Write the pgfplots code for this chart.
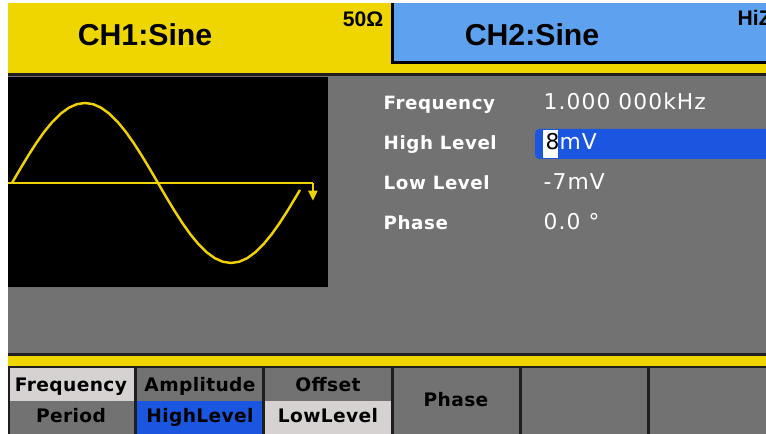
\documentclass[border=0pt]{standalone}
\usepackage{pgfplots}
\pgfplotsset{compat=1.18}
\usetikzlibrary{arrows.meta}
\usepackage{fontspec}
\setmainfont{Liberation Sans}
\newfontfamily\djlab[LetterSpace=3]{DejaVu Sans}
\newfontfamily\djval[LetterSpace=5]{DejaVu Sans}
\newfontfamily\djbtn[LetterSpace=2]{DejaVu Sans}
\definecolor{uiyel}{RGB}{240,214,0}
\definecolor{hdrblue}{RGB}{94,161,238}
\definecolor{uigray}{RGB}{114,114,114}
\definecolor{ltgray}{RGB}{214,210,210}
\definecolor{selblue}{RGB}{26,86,224}
\definecolor{dk}{RGB}{30,30,30}
\definecolor{wave}{RGB}{240,210,0}
\begin{document}
\begin{tikzpicture}
\useasboundingbox (0,0) rectangle (7.66cm,4.34cm);
\clip (0,0) rectangle (7.66cm,4.34cm);
\begin{axis}[at={(0,0)},anchor=south west,width=7.66cm,height=4.34cm,
  scale only axis,hide axis,xmin=0,xmax=766,ymin=0,ymax=434,y dir=reverse,clip=false]
% background
\fill[white] (0,0) rectangle (766,434);
% header
\fill[uiyel] (8,3) rectangle (766,74);
\fill[black] (391,3) rectangle (766,64);
\fill[hdrblue] (394,3) rectangle (766,61);
\fill[dk] (8,73) rectangle (766,76);
% main panel
\fill[uigray] (8,76) rectangle (766,353);
\fill[black] (8,77) rectangle (328,287);
% bottom bars
\fill[dk] (8,353) rectangle (766,356);
\fill[uiyel] (8,356) rectangle (766,366);
\fill[dk] (8,366) rectangle (766,434);
% buttons
\fill[ltgray] (10,368) rectangle (134,401);
\fill[uigray] (10,401) rectangle (134,434);
\fill[uigray] (137,368) rectangle (262,401);
\fill[selblue] (137,401) rectangle (262,434);
\fill[uigray] (265,368) rectangle (391,401);
\fill[ltgray] (265,401) rectangle (391,434);
\fill[uigray] (394,368) rectangle (519,434);
\fill[uigray] (522,368) rectangle (647,434);
\fill[uigray] (650,368) rectangle (766,434);
% selection bar
\fill[selblue,rounded corners=1.2pt] (535,129) rectangle (776,159);
\fill[white] (543,130) rectangle (558,158);
% header text
\node[anchor=base,inner sep=0,font=\fontsize{8.6}{10}\selectfont\bfseries] at (145,46) {CH1:Sine};
\node[anchor=base,inner sep=0,font=\fontsize{8.6}{10}\selectfont\bfseries] at (532,46) {CH2:Sine};
\node[anchor=base,inner sep=0,font=\fontsize{6}{7}\selectfont\bfseries] at (363,27) {50Ω};
\node[anchor=base west,inner sep=0,font=\fontsize{6}{7}\selectfont\bfseries] at (737,26) {HiZ};
% parameter labels
\begin{scope}[every node/.style={anchor=base west,inner sep=0,text=white}]
\node[font=\djlab\fontsize{5.2}{6}\selectfont\bfseries] at (383,110) {Frequency};
\node[font=\djlab\fontsize{5.2}{6}\selectfont\bfseries] at (383,150) {High Level};
\node[font=\djlab\fontsize{5.2}{6}\selectfont\bfseries] at (383,190) {Low Level};
\node[font=\djlab\fontsize{5.2}{6}\selectfont\bfseries] at (383,230) {Phase};
\node[font=\djval\fontsize{6.2}{7}\selectfont] at (543,110) {1.000 000kHz};
\node[font=\djval\fontsize{6.2}{7}\selectfont] at (545,150) {\textcolor{black}{8}mV};
\node[font=\djval\fontsize{6.2}{7}\selectfont] at (543,190) {-7mV};
\node[font=\djval\fontsize{6.2}{7}\selectfont] at (543,230) {0.0 °};
\end{scope}
% button text
\begin{scope}[every node/.style={anchor=base,inner sep=0,text=black,font=\djbtn\fontsize{5.3}{6}\selectfont\bfseries}]
\node at (71,392) {Frequency};
\node at (71,423) {Period};
\node at (200,392) {Amplitude};
\node at (200,423) {HighLevel};
\node at (328,392) {Offset};
\node at (328,423) {LowLevel};
\node at (456,407) {Phase};
\end{scope}
\end{axis}
\begin{axis}[at={(0.08cm,1.47cm)},anchor=south west,width=3.2cm,height=2.1cm,
  scale only axis,hide axis,xmin=-4.93,xmax=389.6,ymin=-1.3,ymax=1.325,clip=false]
\addplot[wave,line width=0.7pt] coordinates {
(0,0) (10,0.174) (20,0.342) (30,0.5) (40,0.643) (50,0.766) (60,0.866) (70,0.94)
(80,0.985) (90,1) (100,0.985) (110,0.94) (120,0.866) (130,0.766) (140,0.643)
(150,0.5) (160,0.342) (170,0.174) (180,0) (190,-0.174) (200,-0.342) (210,-0.5)
(220,-0.643) (230,-0.766) (240,-0.866) (250,-0.94) (260,-0.985) (270,-1)
(280,-0.985) (290,-0.94) (300,-0.866) (310,-0.766) (320,-0.643) (330,-0.5)
(340,-0.342) (350,-0.174) (355,-0.087)};
\addplot[wave,line width=0.45pt] coordinates {(-4.93,0) (371,0)};
\addplot[wave,line width=0.5pt,-{Triangle[length=2.8pt,width=2.6pt]}] coordinates {(371,0) (371,-0.22)};
\end{axis}
\end{tikzpicture}
\end{document}
